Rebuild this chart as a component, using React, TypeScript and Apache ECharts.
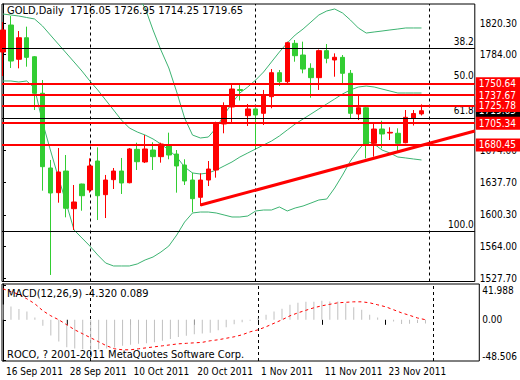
import React, { useEffect, useRef } from 'react';
import * as echarts from 'echarts';

const dates = ['16 Sep 2011','19 Sep 2011','20 Sep 2011','21 Sep 2011','22 Sep 2011','23 Sep 2011','26 Sep 2011','27 Sep 2011','28 Sep 2011','29 Sep 2011','30 Sep 2011','3 Oct 2011','4 Oct 2011','5 Oct 2011','6 Oct 2011','7 Oct 2011','10 Oct 2011','11 Oct 2011','12 Oct 2011','13 Oct 2011','14 Oct 2011','17 Oct 2011','18 Oct 2011','19 Oct 2011','20 Oct 2011','21 Oct 2011','24 Oct 2011','25 Oct 2011','26 Oct 2011','27 Oct 2011','28 Oct 2011','31 Oct 2011','1 Nov 2011','2 Nov 2011','3 Nov 2011','4 Nov 2011','7 Nov 2011','8 Nov 2011','9 Nov 2011','10 Nov 2011','11 Nov 2011','14 Nov 2011','15 Nov 2011','16 Nov 2011','17 Nov 2011','18 Nov 2011','21 Nov 2011','22 Nov 2011','23 Nov 2011','24 Nov 2011','25 Nov 2011','28 Nov 2011','29 Nov 2011','30 Nov 2011'];

const opens = [1787.0,1818.0,1778.7,1803.4,1781.6,1739.7,1654.0,1625.7,1650.5,1607.3,1635.6,1628.8,1662.0,1623.4,1640.6,1650.5,1637.1,1675.4,1660.9,1674.6,1667.0,1679.2,1670.0,1657.4,1640.2,1620.4,1640.2,1651.7,1704.5,1724.0,1744.0,1714.0,1721.7,1716.7,1735.8,1763.3,1753.0,1797.0,1783.6,1768.3,1757.6,1788.6,1777.9,1780.9,1762.6,1715.9,1723.1,1682.3,1698.7,1694.1,1693.8,1683.0,1711.3,1716.05];
const closes = [1812.3,1776.7,1803.4,1780.9,1739.7,1655.5,1625.3,1649.4,1607.8,1615.0,1622.2,1656.3,1622.2,1640.2,1650.5,1636.8,1675.8,1661.2,1675.8,1667.0,1681.5,1668.9,1656.3,1639.1,1618.8,1640.2,1652.8,1704.5,1725.1,1744.6,1742.9,1721.7,1714.8,1737.7,1763.3,1753.0,1797.7,1782.8,1767.5,1757.6,1788.6,1779.8,1781.0,1762.6,1716.7,1723.1,1680.4,1698.7,1693.0,1694.9,1682.3,1712.1,1716.5,1719.65];
const lows = [1759.5,1768.7,1768.3,1770.2,1720.5,1628.0,1531.3,1614.2,1597.4,1582.9,1605.0,1625.7,1594.3,1596.6,1629.9,1624.2,1636.4,1651.7,1659.7,1651.7,1660.1,1664.0,1625.7,1634.5,1603.2,1610.4,1633.3,1642.9,1693.8,1705.3,1731.4,1702.2,1676.6,1703.3,1722.5,1748.0,1751.1,1775.9,1762.6,1734.6,1743.5,1774.1,1758.7,1751.1,1711.0,1709.0,1665.1,1667.0,1676.6,1686.1,1671.5,1682.3,1702.7,1714.25];
const highs = [1821.4,1828.3,1811.1,1816.1,1782.4,1754.9,1663.2,1676.9,1668.9,1634.5,1636.0,1665.1,1677.7,1646.0,1654.0,1665.5,1676.9,1683.0,1691.8,1683.5,1683.0,1694.5,1674.6,1664.0,1648.6,1647.9,1662.0,1707.1,1729.3,1750.3,1751.1,1727.4,1722.8,1743.5,1767.5,1766.4,1798.9,1800.8,1798.9,1774.1,1789.9,1796.2,1785.5,1783.6,1766.4,1736.9,1723.9,1705.3,1708.2,1700.7,1699.5,1720.5,1720.5,1726.95];

const bbUpper = [1907.5,1905.2,1904.0,1899.4,1900.6,1924.7,1938.4,1940.7,1948.8,1959.1,1956.8,1940.7,1932.7,1919.0,1899.4,1876.5,1860.4,1851.3,1837.5,1812.3,1789.3,1768.7,1741.2,1711.3,1691.8,1688.4,1689.5,1699.9,1714.8,1728.5,1740.0,1746.9,1754.9,1764.1,1775.6,1787.0,1797.4,1806.5,1813.4,1821.4,1829.5,1834.1,1836.4,1831.8,1823.7,1814.6,1808.8,1810.0,1811.1,1812.3,1813.4,1814.6,1814.6,1814.6];
const bbMiddle = [1830.6,1829.5,1828.3,1826.6,1824.9,1816.9,1806.5,1796.2,1785.9,1775.6,1765.2,1753.8,1743.5,1732.0,1720.5,1709.0,1699.9,1695.3,1691.8,1687.3,1681.5,1674.6,1666.6,1655.1,1648.3,1647.1,1648.3,1651.7,1656.3,1660.9,1666.6,1671.2,1675.8,1680.4,1684.9,1690.7,1697.6,1704.4,1710.2,1715.9,1721.7,1727.4,1733.1,1738.9,1743.5,1746.9,1748.0,1746.9,1744.6,1742.3,1740.0,1740.0,1740.0,1740.0];
const bbLower = [1753.8,1753.8,1752.6,1753.8,1745.7,1706.7,1674.6,1643.7,1613.8,1582.9,1573.7,1564.5,1554.2,1545.0,1541.6,1541.6,1541.6,1543.9,1548.5,1551.9,1557.6,1564.5,1577.1,1592.0,1602.4,1603.5,1603.5,1602.4,1600.1,1597.8,1597.8,1598.9,1604.7,1605.8,1605.8,1609.3,1604.7,1608.1,1610.4,1613.8,1617.3,1618.4,1631.0,1645.9,1662.0,1674.6,1684.9,1681.5,1674.6,1671.2,1666.6,1665.5,1664.3,1663.2];

const macdMain = [18.5,16.1,12.9,10.1,2.8,-7.2,-18.9,-26.1,-33.0,-34.6,-35.4,-36.2,-35.4,-34.6,-33.4,-31.4,-30.2,-29.0,-28.2,-27.0,-25.3,-23.3,-20.9,-19.3,-17.3,-16.5,-15.5,-12.5,-9.0,-5.5,-3.0,-1.0,2.5,6.0,10.0,13.3,18.1,20.5,21.7,21.7,22.9,22.1,22.1,20.1,15.1,12.1,6.0,2.8,0.4,-2.0,-5.1,-4.8,-3.9,-4.32];
const macdSignal = [37.4,33.8,30.8,25.3,19.3,10.9,4.8,0,-6.0,-12.1,-16.9,-21.7,-26.5,-31.4,-35.0,-36.2,-36.2,-35.0,-33.8,-32.6,-31.4,-30.2,-29.0,-28.4,-27.8,-27.2,-25.3,-24.1,-22.3,-20.5,-18.1,-14.5,-12.1,-8.4,-4.2,0,4.8,8.4,11.5,14.5,16.9,18.7,20.5,21.1,21.7,21.7,20.5,18.1,15.7,12.1,8.4,5.4,2.2,0.089];

const dateTickIdx = [0, 8, 16, 24, 32, 40, 48];
const monthStartIdx = [11, 32, 54];
const priceTicks = [1820.3, 1784.0, 1674.0, 1637.7, 1600.3, 1564.0, 1527.7];
const redLevels = [1750.64, 1737.67, 1725.78, 1705.34, 1680.45];
const fibLabels = ['38.2', '50.0', '61.8', '100.0'];
const fibPrices = [1791.6, 1751.5, 1711.4, 1581.7];
const trendStart = [25, 1611.5];
const trendEnd = [59.75, 1696.4];
const bidPrice = 1719.65;
const macdTicks = [-48.506, 0, 41.988];

const priceMin = 1523.8;
const priceMax = 1842.1;
const xMin = -0.125;
const xMax = 59.75;
const macdStep = (macdTicks[2] - macdTicks[0]) / 75;
const macdAxisMin = macdTicks[0] - macdStep;
const macdAxisMax = macdTicks[2] + macdStep;

const FONT = "'Liberation Sans Narrow', 'DejaVu Sans Condensed', 'Liberation Sans', sans-serif";

export default function App() {
  const ref = useRef<HTMLDivElement>(null);
  useEffect(() => {
    if (!ref.current) return;
    const chart = echarts.init(ref.current, undefined, { renderer: 'svg' });
    const last = opens.length - 1;
    const title = `GOLD,Daily  ${opens[last].toFixed(2)} ${highs[last].toFixed(2)} ${lows[last].toFixed(2)} ${closes[last].toFixed(2)}`;
    const macdTitle = `MACD(12,26,9) ${macdMain[last].toFixed(3)} ${macdSignal[last].toFixed(3)}`;
    const candleData = opens.map((o, i) => [i, o, closes[i], lows[i], highs[i]]);
    const sepLine = {
      silent: true,
      symbol: 'none',
      z: 1,
      label: { show: false },
      lineStyle: { color: '#000', type: [3, 3], width: 1 },
      data: monthStartIdx.map((v) => ({ xAxis: v })),
    };
    const option: any = {
      animation: false,
      backgroundColor: '#fff',
      textStyle: { fontFamily: FONT },
      grid: [
        { left: 2, top: 4, width: 479, height: 277.5, show: true, borderColor: '#000', borderWidth: 1, backgroundColor: 'transparent' },
        { left: 2, top: 284, width: 479, height: 77, show: true, borderColor: '#000', borderWidth: 1, backgroundColor: 'transparent' },
      ],
      xAxis: [
        { type: 'value', gridIndex: 0, min: xMin, max: xMax, show: false },
        {
          type: 'value', gridIndex: 1, min: xMin, max: xMax,
          axisLine: { show: false }, splitLine: { show: false },
          axisTick: { show: true, customValues: dateTickIdx, length: 5, lineStyle: { color: '#000' } },
          axisLabel: {
            customValues: dateTickIdx, formatter: (v: number) => dates[Math.round(v)] || '',
            align: 'left', margin: 5, color: '#000', fontSize: 10, fontFamily: FONT, padding: [0, 0, 0, 3],
          },
        },
      ],
      yAxis: [
        {
          type: 'value', gridIndex: 0, position: 'right', min: priceMin, max: priceMax,
          splitLine: { show: false },
          axisLine: { show: true, lineStyle: { color: '#000' } },
          axisTick: { show: true, customValues: priceTicks, length: 3, lineStyle: { color: '#000' } },
          axisLabel: { customValues: priceTicks, formatter: (v: number) => v.toFixed(2), margin: 5, color: '#000', fontSize: 10, fontFamily: FONT },
        },
        {
          type: 'value', gridIndex: 1, position: 'right', min: macdAxisMin, max: macdAxisMax,
          splitLine: { show: false },
          axisLine: { show: true, lineStyle: { color: '#000' } },
          axisTick: { show: true, customValues: macdTicks, length: 3, lineStyle: { color: '#000' } },
          axisLabel: {
            customValues: macdTicks,
            formatter: (v: number) => {
              if (v === 0) return '{m|0.00}';
              if (v > 0) return '{t|' + v.toFixed(3) + '}';
              return '{b|' + v.toFixed(3) + '}';
            },
            rich: {
              t: { padding: [11, 0, 0, 0], fontSize: 10, color: '#000', fontFamily: FONT },
              m: { fontSize: 10, color: '#000', fontFamily: FONT },
              b: { padding: [0, 0, 8, 0], fontSize: 10, color: '#000', fontFamily: FONT },
            },
            margin: 3, color: '#000', fontSize: 10, fontFamily: FONT,
          },
        },
      ],
      series: [
        {
          type: 'line', name: 'bbUpper', xAxisIndex: 0, yAxisIndex: 0, silent: true,
          data: bbUpper.map((v, i) => [i, v]), symbol: 'none', showSymbol: false,
          lineStyle: { color: '#3cb371', width: 1 }, z: 1,
          markLine: {
            silent: true, symbol: 'none', z: 4,
            lineStyle: { color: 'rgba(0,0,0,0)', width: 0 },
            label: {
              show: true, position: 'end', formatter: () => bidPrice.toFixed(2),
              color: '#fff', backgroundColor: '#000', padding: [2, 4, 1, 3], fontSize: 10, fontFamily: FONT, distance: 1,
            },
            data: [{ yAxis: bidPrice }],
          },
        },
        {
          type: 'line', name: 'bbMiddle', xAxisIndex: 0, yAxisIndex: 0, silent: true,
          data: bbMiddle.map((v, i) => [i, v]), symbol: 'none', showSymbol: false,
          lineStyle: { color: '#3cb371', width: 1 }, z: 1,
          markLine: sepLine,
        },
        {
          type: 'line', name: 'bbLower', xAxisIndex: 0, yAxisIndex: 0, silent: true,
          data: bbLower.map((v, i) => [i, v]), symbol: 'none', showSymbol: false,
          lineStyle: { color: '#3cb371', width: 1 }, z: 1,
          markLine: {
            silent: true, symbol: 'none', z: 3,
            lineStyle: { color: '#000', width: 1, type: 'solid' },
            label: {
              show: true, position: 'insideEndTop', color: '#000', fontSize: 10, fontFamily: FONT, distance: [1, 2],
              formatter: (p: any) => fibLabels[p.dataIndex],
            },
            data: fibPrices.map((v) => ({ yAxis: v })),
          },
        },
        {
          type: 'candlestick', name: 'GOLD', xAxisIndex: 0, yAxisIndex: 0, silent: true,
          dimensions: ['idx', 'open', 'close', 'low', 'high'],
          encode: { x: 'idx', y: ['open', 'close', 'low', 'high'] },
          data: candleData, barWidth: 5, z: 2,
          itemStyle: { color: '#ff0000', color0: '#32cd32', borderColor: '#ff0000', borderColor0: '#32cd32', borderWidth: 1 },
        },
        {
          type: 'line', name: 'trend', xAxisIndex: 0, yAxisIndex: 0, silent: true,
          data: [trendStart, trendEnd], symbol: 'none', showSymbol: false,
          lineStyle: { color: '#ff0000', width: 3 }, z: 6,
          markLine: {
            silent: true, symbol: 'none', z: 6,
            lineStyle: { color: '#ff0000', width: 2, type: 'solid' },
            label: {
              show: true, position: 'end', formatter: (p: any) => Number(p.value).toFixed(2),
              color: '#fff', backgroundColor: '#ff0000', padding: [2, 4, 1, 3], fontSize: 10, fontFamily: FONT, distance: 1,
            },
            data: redLevels.map((v) => ({ yAxis: v })),
          },
        },
        {
          type: 'bar', name: 'MACD', xAxisIndex: 1, yAxisIndex: 1, silent: true,
          data: macdMain.map((v, i) => [i, v]), barWidth: 1,
          itemStyle: { color: '#c0c0c0' }, z: 2,
          markLine: sepLine,
        },
        {
          type: 'line', name: 'Signal', xAxisIndex: 1, yAxisIndex: 1, silent: true,
          data: macdSignal.map((v, i) => [i, v]), symbol: 'none', showSymbol: false,
          lineStyle: { color: '#ff0000', width: 1, type: [3, 3] }, z: 3,
        },
      ],
      graphic: [
        { type: 'text', left: 7, top: 5, z: 100, style: { text: title, fontSize: 11, fill: '#000', fontFamily: FONT } },
        { type: 'text', left: 7, top: 288, z: 100, style: { text: macdTitle, fontSize: 11, fill: '#000', fontFamily: FONT } },
        { type: 'text', left: 7, top: 349, z: 100, style: { text: 'ROCO, ? 2001-2011 MetaQuotes Software Corp.', fontSize: 11, fill: '#000', fontFamily: FONT } },
      ],
    };
    chart.setOption(option);
    return () => chart.dispose();
  }, []);
  return <div ref={ref} style={{ position: 'fixed', left: 0, top: 0, width: 520, height: 380, background: '#fff' }} />;
}
